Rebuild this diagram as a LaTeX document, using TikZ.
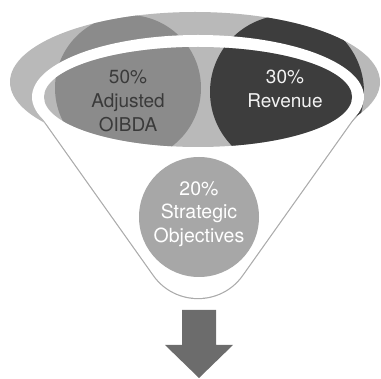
\documentclass[tikz,border=0pt]{standalone}
\usepackage{fontspec}
\setmainfont{TeX Gyre Heros}
\definecolor{ltgray}{HTML}{B9B9B9}
\definecolor{midgray}{HTML}{8B8B8B}
\definecolor{dkgray}{HTML}{3D3D3D}
\definecolor{stratgray}{HTML}{A7A7A7}
\definecolor{arrowgray}{HTML}{6C6C6C}
\definecolor{funnelgray}{HTML}{ABABAB}
\definecolor{lefttext}{HTML}{3A3A3A}
\definecolor{righttext}{HTML}{F2F2F2}
\begin{document}
\begin{tikzpicture}[x=1pt,y=-1pt,
  outline/.style={draw=funnelgray, line width=2.4pt},
  lbl/.style={font=\fontsize{19}{24}\selectfont, align=center, inner sep=0pt},
]
\useasboundingbox (0,0) rectangle (381,379);
% funnel outline (outer half of the stroke stays visible)
\draw[outline] (198,97) ellipse [x radius=166, y radius=62];
\draw[outline] (38.6,112.8) -- (153.8,275.1) .. controls (175.4,305.6) and (220.6,305.6) .. (242.2,275.1) -- (357.4,112.8);
% outer gray ellipse with the tops of the two circles
\fill[ltgray] (195,82) ellipse [x radius=185, y radius=70];
\begin{scope}
  \clip (195,82) ellipse [x radius=185, y radius=70];
  \fill[midgray] (128,88) circle [radius=73];
  \fill[dkgray] (287,92) circle [radius=77];
\end{scope}
% white rim and funnel body
\fill[white] (198,97) ellipse [x radius=166, y radius=62];
\fill[white] (38.6,112.8) -- (153.8,275.1) .. controls (175.4,305.6) and (220.6,305.6) .. (242.2,275.1) -- (357.4,112.8) -- (198,97) -- cycle;
% inner ellipse
\fill[ltgray] (198,97) ellipse [x radius=154, y radius=50];
\begin{scope}
  \clip (198,97) ellipse [x radius=154, y radius=50];
  \fill[midgray] (128,88) circle [radius=73];
  \fill[dkgray] (287,92) circle [radius=77];
\end{scope}
% labels
\node[lbl, text=lefttext] (adj) at (128,101) {50\%\\Adjusted\\OIBDA};
\node[lbl, text=righttext] (rev) at (285,89) {30\%\\Revenue};
\node[circle, fill=stratgray, minimum size=120pt, inner sep=0pt] (strat) at (199,217) {};
\node[lbl, text=white, font=\fontsize{19.5}{23.5}\selectfont] (stxt) at (199,214) {20\%\\Strategic\\Objectives};
% arrow
\fill[arrowgray] (182,310) -- (216,310) -- (216,345) -- (233,345) -- (199,378) -- (165,345) -- (182,345) -- cycle;
\end{tikzpicture}
\end{document}
